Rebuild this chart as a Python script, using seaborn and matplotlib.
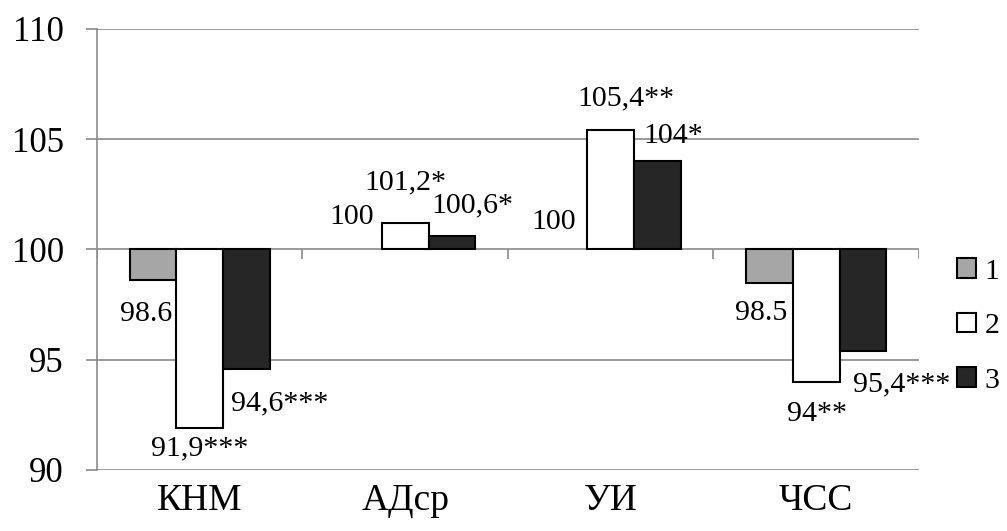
import numpy as np
import pandas as pd
import matplotlib
matplotlib.use("Agg")
import matplotlib.pyplot as plt
from matplotlib.patches import Patch
import seaborn as sns

# =========================================================
# DATA
# =========================================================

categories = ["КНМ", "АДср", "УИ", "ЧСС"]
series = ["1", "2", "3"]

values_1 = [98.6, 100, 100, 98.5]
values_2 = [91.9, 101.2, 105.4, 94]
values_3 = [94.6, 100.6, 104, 95.4]

labels_1 = ["98.6", "100", "100", "98.5"]
labels_2 = ["91,9***", "101,2*", "105,4**", "94**"]
labels_3 = ["94,6***", "100,6*", "104*", "95,4***"]

baseline = 100

# =========================================================
# STYLE
# =========================================================

sns.set_style("white")
plt.rcParams.update({
    "font.serif": ["Liberation Serif", "DejaVu Serif"],
    "font.family": "serif",
    "text.color": "black",
    "axes.labelcolor": "black",
    "xtick.labelcolor": "black",
    "ytick.labelcolor": "black",
})

palette = {"1": "#A6A6A6", "2": "#FFFFFF", "3": "#262626"}
grid_color = "#8A8A8A"

# label offsets in pixels (dx, dy) from bar end, per series
label_offsets = {
    "1": [(-7, -34), (-7, 32), (-10, 27), (-8, -30)],
    "2": [(0, -20), (0, 41), (15, 32), (1, -32)],
    "3": [(33, -35), (20, 31), (16, 25), (39, -33)],
}

# =========================================================
# TABLE
# =========================================================

rows = []
for s, vals, labs in zip(series, [values_1, values_2, values_3],
                         [labels_1, labels_2, labels_3]):
    for c, v, lab in zip(categories, vals, labs):
        rows.append({"Category": c, "Series": s, "Value": v,
                     "Delta": v - baseline, "Label": lab})
df = pd.DataFrame(rows)

# =========================================================
# FIGURE
# =========================================================

fig = plt.figure(figsize=(10.07, 5.31), dpi=100)
ax = fig.add_axes([0.0963, 0.1149, 0.9126 - 0.0963, 0.9454 - 0.1149])

sns.barplot(data=df, x="Category", y="Delta", hue="Series",
            order=categories, hue_order=series, palette=palette,
            width=0.683, gap=0, bottom=baseline, edgecolor="black",
            linewidth=1.5, legend=False, ax=ax)

ax.set_xlim(-0.5, len(categories) - 0.5)
ax.set_ylim(90, 110)
ax.set_yticks([90, 95, 100, 105, 110])
ax.set_axisbelow(True)
ax.yaxis.grid(True, color=grid_color, linewidth=1.2)
ax.xaxis.grid(False)

for side in ["top", "right", "bottom"]:
    ax.spines[side].set_visible(False)
ax.spines["left"].set_color(grid_color)
ax.spines["left"].set_linewidth(1.2)

ax.tick_params(axis="y", length=8, width=1.2, color=grid_color,
               labelsize=25, pad=16, left=True)
ax.tick_params(axis="x", length=0, labelsize=27, pad=10)
ax.set_xlabel("")
ax.set_ylabel("")

# category separators on the 100 line
ax.vlines(np.arange(len(categories) + 1) - 0.5, baseline - 0.45, baseline,
          color=grid_color, linewidth=1.2, zorder=1)

# data labels
for s, container in zip(series, ax.containers):
    sub = df[df["Series"] == s].reset_index(drop=True)
    for i, bar in enumerate(container.patches):
        if sub.loc[i, "Delta"] == 0:
            bar.set_linewidth(0)
        xc = bar.get_x() + bar.get_width() / 2
        dx, dy = label_offsets[s][i]
        ax.annotate(sub.loc[i, "Label"], (xc, sub.loc[i, "Value"]),
                    xytext=(dx, dy), textcoords="offset pixels",
                    ha="center", va="center", fontsize=21.5,
                    annotation_clip=False)

# legend
handles = [Patch(facecolor=palette[s], edgecolor="black", linewidth=1.5,
                 label=s) for s in series]
fig.legend(handles=handles, loc="center left",
           bbox_to_anchor=(957 / 1007, 1 - 326 / 531), frameon=False,
           fontsize=21.5, handlelength=0.62, handleheight=0.62,
           handletextpad=0.3, labelspacing=0.95, borderpad=0,
           borderaxespad=0)

fig.savefig("out.png", dpi=100)
